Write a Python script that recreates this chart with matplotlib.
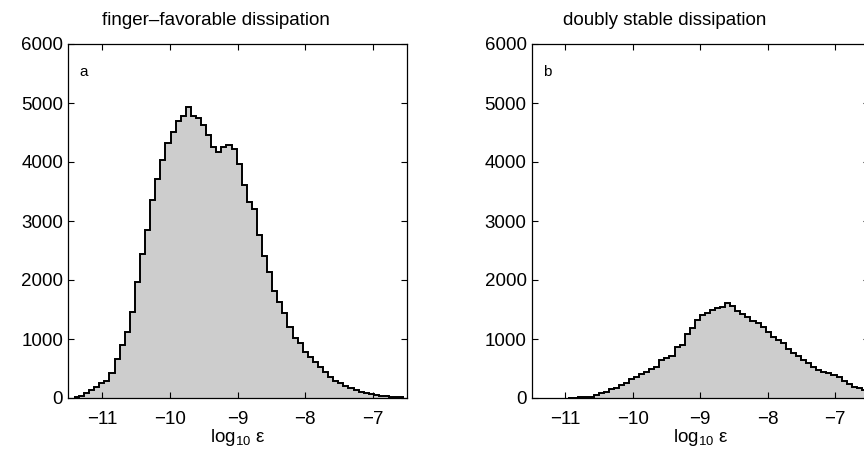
import numpy as np
import matplotlib
matplotlib.use('Agg')
import matplotlib.pyplot as plt

plt.rcParams['font.family'] = ['Liberation Sans', 'DejaVu Sans']
plt.rcParams['mathtext.fontset'] = 'custom'
plt.rcParams['mathtext.rm'] = 'Liberation Sans'
plt.rcParams['mathtext.it'] = 'Liberation Sans'

BIN_W = 0.075  # bin width in log10 units

# finger-favorable dissipation, counts per bin
START_A = -11.413
COUNTS_A = [25, 40, 80, 140, 190, 250, 293, 430, 656, 898,
            1124, 1463, 1972, 2441, 2840, 3356, 3718, 4034, 4328, 4514,
            4700, 4785, 4930, 4785, 4751, 4627, 4458, 4260, 4164, 4260,
            4288, 4220, 3961, 3610, 3317, 3203, 2770, 2407, 2141, 1819,
            1632, 1435, 1209, 1012, 927, 785, 700, 615, 530, 446,
            350, 293, 250, 203, 163, 135, 107, 80, 63, 50,
            40, 40, 15, 15, 15]

# doubly stable dissipation, counts per bin
START_B = -10.956
COUNTS_B = [0, 5, 10, 15, 20, 50, 80, 107, 147, 164,
            220, 260, 316, 350, 407, 446, 486, 530, 644, 683,
            712, 859, 898, 1080, 1190, 1315, 1407, 1446, 1492, 1520,
            1548, 1605, 1560, 1480, 1424, 1378, 1310, 1266, 1198, 1124,
            1039, 983, 927, 825, 768, 712, 644, 588, 530, 475,
            446, 418, 390, 350, 293, 237, 190, 164, 135]

TITLES = ['finger\u2013favorable dissipation', 'doubly stable dissipation']
PANEL = ['a', 'b']
XTICKS = [-11, -10, -9, -8, -7]
YTICKS = [0, 1000, 2000, 3000, 4000, 5000, 6000]

fig = plt.figure(figsize=(8.64, 4.55), dpi=100)
ax_a = fig.add_axes([68 / 864, 57 / 455, 339 / 864, 354 / 455])
ax_b = fig.add_axes([531.5 / 864, 57 / 455, 337.5 / 864, 354 / 455])

# titles sit a little left of the axes centre in the original
title_x = [0.437, 0.396]

for ax, start, counts, title, lab, tx in zip([ax_a, ax_b], [START_A, START_B],
                                             [COUNTS_A, COUNTS_B], TITLES, PANEL, title_x):
    counts = np.array(counts, dtype=float)
    edges = start + BIN_W * np.arange(len(counts) + 1)
    ax.stairs(counts, edges, fill=True, facecolor='#cdcdcd', edgecolor='none')
    ax.stairs(counts, edges, color='black', linewidth=1.4, baseline=None)

    ax.set_xlim(-11.5, -6.5)
    ax.set_ylim(0, 6000)
    ax.set_xticks(XTICKS)
    ax.set_yticks(YTICKS)
    ax.tick_params(direction='in', top=True, right=True, length=4,
                   width=0.8, labelsize=13.5)
    ax.tick_params(axis='x', pad=9)
    for s in ax.spines.values():
        s.set_linewidth(0.9)
    ax.set_title(title, fontsize=13.5, pad=14, x=tx)
    ax.set_xlabel(r'log$_{10}$ $\mathregular{\varepsilon}$', fontsize=13.5, labelpad=0)
    ax.text(0.035, 0.91, lab, transform=ax.transAxes, fontsize=11)

fig.savefig('out.png', dpi=100)
